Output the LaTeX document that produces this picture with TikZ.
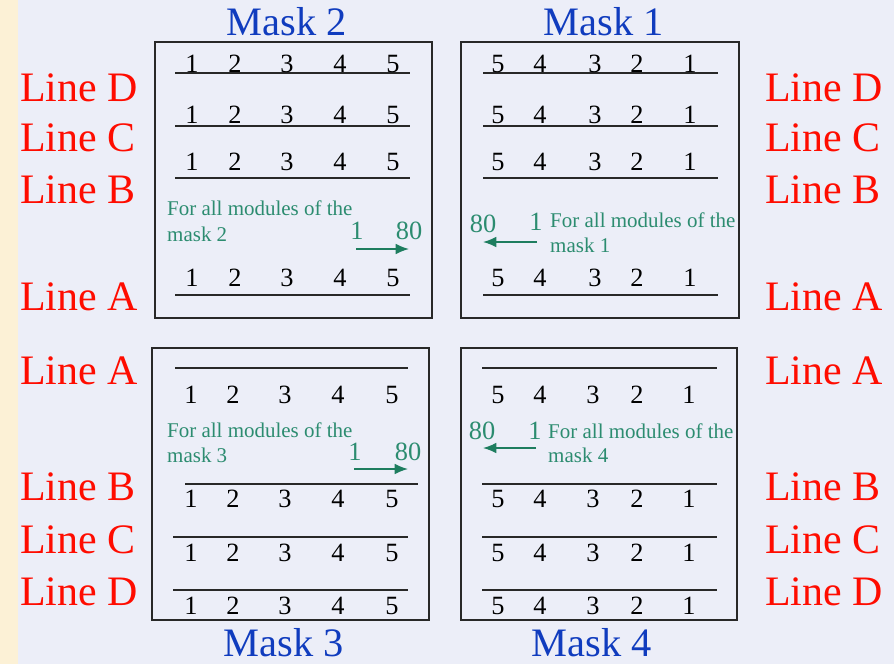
\documentclass[tikz,border=0pt]{standalone}
\usepackage{fontspec}
\setmainfont{Liberation Serif}
\usetikzlibrary{arrows.meta}
\definecolor{bgblue}{RGB}{236,238,248}
\definecolor{strip}{RGB}{252,241,214}
\definecolor{linered}{RGB}{255,12,0}
\definecolor{maskblue}{RGB}{16,60,190}
\definecolor{noteteal}{RGB}{44,140,112}
\definecolor{arrowteal}{RGB}{30,125,95}
\definecolor{boxgray}{RGB}{40,40,40}
\begin{document}
\begin{tikzpicture}[x=0.3mm,y=-0.3mm]
    \tikzset{%
        lbl/.style={text=linered, font=\fontsize{35.8}{37}\selectfont, anchor=west, inner sep=0pt},
        ttl/.style={text=maskblue, font=\fontsize{34.5}{36}\selectfont, inner sep=0pt},
        num/.style={font=\fontsize{22.5}{24}\selectfont, inner sep=0pt},
        txt/.style={text=noteteal, font=\fontsize{17.9}{20}\selectfont, anchor=base west, inner sep=0pt},
        big/.style={text=noteteal, font=\fontsize{22.5}{24}\selectfont, inner sep=0pt},
        box/.style={draw=boxgray, line width=0.6mm},
        rule/.style={draw=boxgray, line width=0.5mm},
        e/.style={-{Latex[length=4mm,width=3.2mm]}, draw=arrowteal, line width=0.45mm}%
        }
    % background
    \fill[bgblue] (0,0) rectangle (894,664);
    \fill[strip] (0,0) rectangle (18,664);
    % titles
    \node[ttl](mtwo)at(287,22){Mask 2};
    \node[ttl](mone)at(604,22){Mask 1};
    \node[ttl](mthree)at(284,643){Mask 3};
    \node[ttl](mfour)at(592,643){Mask 4};
    % boxes
    \draw[box] (155,42) rectangle (432,318);
    \draw[box] (461,42) rectangle (739,318);
    \draw[box] (152,348) rectangle (429,620);
    \draw[box] (461,348) rectangle (737,620);
    % line labels
    \foreach \n/\l/\y in {ld/D/88, lc/C/138, lb/B/190, la/A/297, lla/A/371, llb/B/487, llc/C/540, lld/D/592} {
        \node[lbl](\n w)at(20,\y){Line \l};
        \node[lbl](\n e)at(765,\y){Line \l};
    }
    % mask 2
    \foreach \r/\yd/\yr in {1/64/73, 2/115/126, 3/162/178, 4/278/295} {
        \draw[rule] (175,\yr) -- (410,\yr);
        \foreach \i/\x in {1/192, 2/235, 3/287, 4/340, 5/393}
            \node[num](mtwo\r\i)at(\x,\yd){\i};
    }
    % mask 1
    \foreach \r/\yd/\yr in {1/64/73, 2/115/126, 3/162/178, 4/278/295} {
        \draw[rule] (483,\yr) -- (718,\yr);
        \foreach \i/\x in {5/498, 4/540, 3/595, 2/637, 1/690}
            \node[num](mone\r\i)at(\x,\yd){\i};
    }
    % mask 3
    \foreach \r/\yd/\yr/\xa/\xb in {1/395/368/175/408, 2/499/484/185/418, 3/553/537/173/408, 4/606/590/173/408} {
        \draw[rule] (\xa,\yr) -- (\xb,\yr);
        \foreach \i/\x in {1/191, 2/233, 3/285, 4/338, 5/392}
            \node[num](mthree\r\i)at(\x,\yd){\i};
    }
    % mask 4
    \foreach \r/\yd/\yr in {1/395/368, 2/499/484, 3/553/537, 4/606/590} {
        \draw[rule] (482,\yr) -- (717,\yr);
        \foreach \i/\x in {5/498, 4/540, 3/593, 2/637, 1/689}
            \node[num](mfour\r\i)at(\x,\yd){\i};
    }
    % notes
    \node[txt](ntwoa)at(167,215){For all modules of the};
    \node[txt](ntwob)at(167,241){mask 2};
    \node[big](stwo)at(357,231){1};
    \node[big](etwo)at(409,231){80};
    \node[txt](nonea)at(550,227){For all modules of the};
    \node[txt](noneb)at(550,252){mask 1};
    \node[big](sone)at(536,222){1};
    \node[big](eone)at(483,224){80};
    \node[txt](nthreea)at(167,437){For all modules of the};
    \node[txt](nthreeb)at(167,462){mask 3};
    \node[big](sthree)at(355,452){1};
    \node[big](ethree)at(408,452){80};
    \node[txt](nfoura)at(548,438){For all modules of the};
    \node[txt](nfourb)at(548,462){mask 4};
    \node[big](sfour)at(535,431){1};
    \node[big](efour)at(482,431){80};
    % arrows
    \coordinate(atwos)at(356,249);
    \coordinate(atwoe)at(409,249);
    \coordinate(aones)at(537,242);
    \coordinate(aonee)at(483,242);
    \coordinate(athrees)at(354,469);
    \coordinate(athreee)at(408,469);
    \coordinate(afours)at(536,448);
    \coordinate(afoure)at(483,448);
    \path
    (atwos)edge[e](atwoe)
    (aones)edge[e](aonee)
    (athrees)edge[e](athreee)
    (afours)edge[e](afoure);
\end{tikzpicture}
\end{document}
